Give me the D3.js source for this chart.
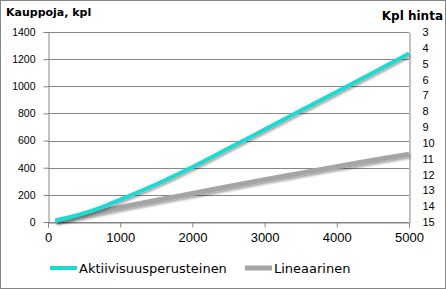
<!DOCTYPE html>
<html>
<head>
  <style>
  body { margin: 0; background: #fff; }
  svg { font-family: "DejaVu Sans", sans-serif; }
  .axis .domain { stroke: #868686; }
  .axis .tick line { stroke: #868686; }
  .grid line { stroke: #868686; stroke-width: 1px; }
  </style>
</head>
<body>
  <div id="chart"></div>
  <script src="https://d3js.org/d3.v7.min.js"></script>
  <script>
  // values
  var kpl = [100, 300, 500, 700, 1000, 1500, 2000, 2500, 3000, 3500, 4000, 4500, 5000];
  var aktiivisuus = [10, 35, 65, 100, 165, 278, 405, 543, 682, 821, 960, 1100, 1242];
  var lineaarinen = [8, 30, 52, 75, 108, 160, 210, 262, 312, 360, 408, 455, 500];
  var xTicks = [0, 1000, 2000, 3000, 4000, 5000];
  var yTicks = [0, 200, 400, 600, 800, 1000, 1200, 1400];
  var priceTicks = d3.range(3, 16);
  var seriesNames = ["Aktiivisuusperusteinen", "Lineaarinen"];
  var seriesColors = ["#1fd9d1", "#a5a5a5"];

  var W = 446, H = 289;
  var margin = {top: 32, left: 48, right: 37, bottom: 67};
  var width = W - margin.left - margin.right, height = H - margin.top - margin.bottom;

  var svg = d3.select("#chart").append("svg")
      .attr("width", W)
      .attr("height", H);

  // excel style drop shadow under the lines
  var f = svg.append("defs").append("filter").attr("id", "shadow")
      .attr("x", "-10%").attr("y", "-10%").attr("width", "130%").attr("height", "150%");
  f.append("feDropShadow")
      .attr("dx", 1.2).attr("dy", 2)
      .attr("stdDeviation", 1.3)
      .attr("flood-color", "#000")
      .attr("flood-opacity", 0.35);

  svg.append("rect")
      .attr("x", 0.5).attr("y", 0.5)
      .attr("width", W - 1).attr("height", H - 1)
      .attr("fill", "#fff")
      .attr("stroke", "#868686");

  var g = svg.append("g")
      .attr("transform", "translate(" + margin.left + "," + margin.top + ")");

  var x = d3.scaleLinear().domain([0, 5000]).range([0, width]);
  var y = d3.scaleLinear().domain([0, 1400]).range([height, 0]);
  var y2 = d3.scaleLinear().domain([3, 15]).range([0, height]);

  // gridlines
  g.append("g").attr("class", "grid")
    .selectAll("line")
      .data(yTicks)
    .enter().append("line")
      .attr("x1", 0).attr("x2", width)
      .attr("y1", function(d){ return Math.round(y(d)) + 0.5; })
      .attr("y2", function(d){ return Math.round(y(d)) + 0.5; });

  var yAxis = g.append("g").attr("class", "axis")
      .attr("transform", "translate(0.5,0)")
      .call(d3.axisLeft(y).tickValues(yTicks).tickFormat(d3.format("d")).tickSize(5).tickPadding(8));
  yAxis.selectAll("text").style("font-size", "10.5px").attr("fill", "#000");

  var xAxis = g.append("g").attr("class", "axis")
      .attr("transform", "translate(0," + (Math.round(height) + 0.5) + ")")
      .call(d3.axisBottom(x).tickValues(xTicks).tickFormat(d3.format("d")).tickSize(5).tickPadding(5));
  xAxis.selectAll("text").style("font-size", "13px").attr("fill", "#000");

  var y2Axis = g.append("g").attr("class", "axis")
      .attr("transform", "translate(" + (Math.round(width) + 0.5) + ",0)")
      .call(d3.axisRight(y2).tickValues(priceTicks).tickSize(0).tickPadding(13));
  y2Axis.selectAll("text").style("font-size", "11px").attr("fill", "#000");

  var line = d3.line()
      .x(function(d){ return x(d[0]); })
      .y(function(d){ return y(d[1]); })
      .curve(d3.curveMonotoneX);

  g.append("path")
      .datum(kpl.map(function(k, i){ return [k, lineaarinen[i]]; }))
      .attr("fill", "none")
      .attr("stroke", seriesColors[1])
      .attr("stroke-width", 5)
      .attr("filter", "url(#shadow)")
      .attr("d", line);

  g.append("path")
      .datum(kpl.map(function(k, i){ return [k, aktiivisuus[i]]; }))
      .attr("fill", "none")
      .attr("stroke", seriesColors[0])
      .attr("stroke-width", 4)
      .attr("filter", "url(#shadow)")
      .attr("d", line);

  // titles
  svg.append("text")
      .attr("x", 6).attr("y", 16)
      .style("font-size", "11px").style("font-weight", "bold")
      .text("Kauppoja, kpl");
  svg.append("text")
      .attr("x", 443).attr("y", 20)
      .attr("text-anchor", "end")
      .style("font-size", "12px").style("font-weight", "bold")
      .text("Kpl hinta");

  // legend
  var legendX = [50, 245];
  var leg = svg.selectAll("g.legend")
      .data(seriesNames)
    .enter().append("g")
      .attr("class", "legend")
      .attr("transform", function(d, i){ return "translate(" + legendX[i] + ",268)"; });
  leg.append("line")
      .attr("x1", 0).attr("x2", 27)
      .attr("stroke", function(d, i){ return seriesColors[i]; })
      .attr("stroke-width", function(d, i){ return i === 0 ? 4 : 5; });
  leg.append("text")
      .attr("x", 29).attr("dy", "0.35em")
      .style("font-size", "13px")
      .text(function(d){ return d; });
  </script>
</body>
</html>
